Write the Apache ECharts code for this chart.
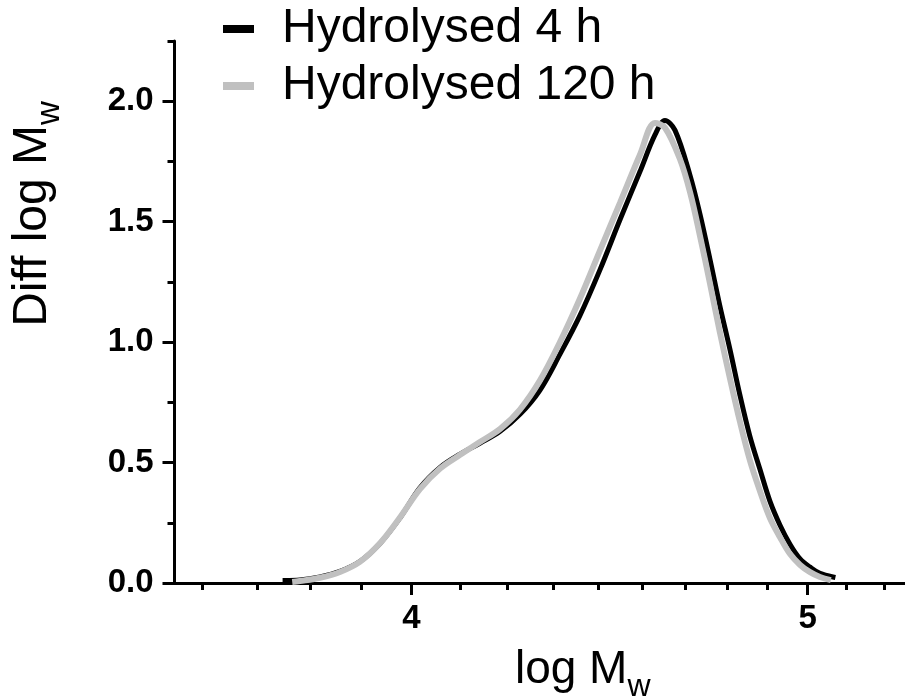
<!DOCTYPE html>
<html>
<head>
<meta charset="utf-8">
<style>
  html, body { margin: 0; padding: 0; background: #ffffff; }
  #chart { width: 905px; height: 698px; }
</style>
<script src="https://cdn.jsdelivr.net/npm/echarts@6/dist/echarts.min.js"></script>
</head>
<body>
<div id="chart"></div>
<script>
// ---- data ----
const seriesNames = ['Hydrolysed 4 h', 'Hydrolysed 120 h'];

// log Mw values and Diff log Mw values, 4 h
const logMw4h = [3.725, 3.756, 3.799, 3.842, 3.886, 3.930, 3.974, 4.019, 4.065, 4.111,
                 4.157, 4.205, 4.252, 4.300, 4.349, 4.398, 4.448, 4.499, 4.550, 4.588,
                 4.614, 4.640, 4.680, 4.706, 4.733, 4.759, 4.786, 4.813, 4.840, 4.868,
                 4.895, 4.923, 4.951, 4.979, 5.007, 5.035, 5.072];
const diff4h   = [0.010, 0.012, 0.025, 0.048, 0.090, 0.165, 0.270, 0.395, 0.480, 0.535,
                  0.580, 0.630, 0.700, 0.800, 0.950, 1.110, 1.300, 1.510, 1.710, 1.860,
                  1.920, 1.880, 1.690, 1.530, 1.340, 1.150, 0.970, 0.780, 0.610, 0.470,
                  0.340, 0.240, 0.160, 0.100, 0.066, 0.040, 0.025];

// log Mw values and Diff log Mw values, 120 h
const logMw120h = [3.740, 3.756, 3.799, 3.842, 3.886, 3.930, 3.974, 4.019, 4.065, 4.111,
                   4.157, 4.205, 4.252, 4.300, 4.349, 4.398, 4.448, 4.499, 4.550, 4.588,
                   4.614, 4.653, 4.680, 4.706, 4.733, 4.759, 4.786, 4.813, 4.840, 4.868,
                   4.895, 4.923, 4.951, 4.979, 5.007, 5.035, 5.066];
const diff120h  = [0.004, 0.008, 0.022, 0.046, 0.089, 0.166, 0.272, 0.390, 0.475, 0.532,
                   0.585, 0.640, 0.720, 0.840, 1.000, 1.180, 1.380, 1.580, 1.780, 1.910,
                   1.890, 1.760, 1.620, 1.440, 1.240, 1.040, 0.850, 0.670, 0.510, 0.380,
                   0.270, 0.190, 0.120, 0.075, 0.045, 0.025, 0.012];

// axis ticks
const xMajorTicks = [4, 5];
const xMinorTicks = [3.556, 3.667, 3.778, 3.889, 4.111, 4.222, 4.333, 4.444, 4.556,
                     4.667, 4.778, 4.889, 5.111, 5.222];
const xRange = [3.5, 5.3];
const yMajorTicks = [0, 0.5, 1.0, 1.5, 2.0];
const yMinorTicks = [0.25, 0.75, 1.25, 1.75, 2.25];
const yRange = [0, 2.25];

// ---- chart ----
const FONT = '"Liberation Sans", Arial, sans-serif';
const lg = v => Math.log10(v);   // logarithmic x scale
const toPairs = (xs, ys) => xs.map((x, i) => [lg(x), ys[i]]);

const chart = echarts.init(document.getElementById('chart'), null, { renderer: 'canvas' });

const xNameRich = {
  b:   { fontSize: 46, lineHeight: 66, fontFamily: FONT, color: '#000' },
  sub: { fontSize: 32, lineHeight: 32, verticalAlign: 'bottom', fontFamily: FONT, color: '#000' }
};
const yNameRich = {
  b:   { fontSize: 48, lineHeight: 68, fontFamily: FONT, color: '#000' },
  sub: { fontSize: 33, lineHeight: 33, verticalAlign: 'bottom', fontFamily: FONT, color: '#000' }
};

const option = {
  animation: false,
  backgroundColor: '#ffffff',
  color: ['#000000', '#c0c0c0'],
  grid: { left: 174.5, right: -6, top: 41, bottom: 115, containLabel: false, outerBoundsMode: 'none' },
  legend: {
    orient: 'vertical',
    left: 218, top: 0,
    icon: 'rect',
    itemWidth: 31, itemHeight: 8, itemGap: 9,
    data: seriesNames,
    textStyle: { fontSize: 48, lineHeight: 48, fontFamily: FONT, color: '#000', padding: [0, 0, 0, 23] }
  },
  xAxis: [
    {
      type: 'value', min: lg(xRange[0]), max: lg(xRange[1]), position: 'bottom',
      axisLine: { show: true, onZero: false, lineStyle: { color: '#000', width: 3 } },
      axisTick: { show: true, length: 12, customValues: xMajorTicks.map(lg), lineStyle: { color: '#000', width: 3 } },
      axisLabel: {
        show: true, customValues: xMajorTicks.map(lg), margin: 19,
        fontSize: 33, fontWeight: 'bold', fontFamily: FONT, color: '#000',
        formatter: v => String(Math.round(Math.pow(10, v)))
      },
      splitLine: { show: false },
      name: '{b|log M}{sub|w}', nameLocation: 'middle', nameGap: 54,
      nameTextStyle: { rich: xNameRich, padding: [0, 0, 0, 80] }
    },
    {
      type: 'value', min: lg(xRange[0]), max: lg(xRange[1]), position: 'bottom',
      axisLine: { show: false, onZero: false },
      axisTick: { show: true, length: 7, customValues: xMinorTicks.map(lg), lineStyle: { color: '#000', width: 3 } },
      axisLabel: { show: false },
      splitLine: { show: false }
    }
  ],
  yAxis: [
    {
      type: 'value', min: yRange[0], max: yRange[1], position: 'left',
      axisLine: { show: true, onZero: false, lineStyle: { color: '#000', width: 3 } },
      axisTick: { show: true, length: 12, customValues: yMajorTicks, lineStyle: { color: '#000', width: 3 } },
      axisLabel: {
        show: true, customValues: yMajorTicks, margin: 21,
        fontSize: 33, fontWeight: 'bold', fontFamily: FONT, color: '#000',
        formatter: v => v.toFixed(1)
      },
      splitLine: { show: false },
      name: '{b|Diff log M}{sub|w}', nameLocation: 'middle', nameGap: 108,
      nameTextStyle: { rich: yNameRich, padding: [0, 0, 0, 196] }
    },
    {
      type: 'value', min: yRange[0], max: yRange[1], position: 'left',
      axisLine: { show: false, onZero: false },
      axisTick: { show: true, length: 7, customValues: yMinorTicks, lineStyle: { color: '#000', width: 3 } },
      axisLabel: { show: false },
      splitLine: { show: false }
    }
  ],
  series: [
    {
      name: seriesNames[0], type: 'line', xAxisIndex: 0, yAxisIndex: 0,
      data: toPairs(logMw4h, diff4h),
      showSymbol: false, smooth: 0.35,
      lineStyle: { color: '#000000', width: 5, cap: 'square' },
      itemStyle: { color: '#000000' }, z: 2
    },
    {
      name: seriesNames[1], type: 'line', xAxisIndex: 0, yAxisIndex: 0,
      data: toPairs(logMw120h, diff120h),
      showSymbol: false, smooth: 0.35,
      lineStyle: { color: '#c0c0c0', width: 6 },
      itemStyle: { color: '#c0c0c0' }, z: 3
    }
  ]
};
chart.setOption(option);
</script>
</body>
</html>
